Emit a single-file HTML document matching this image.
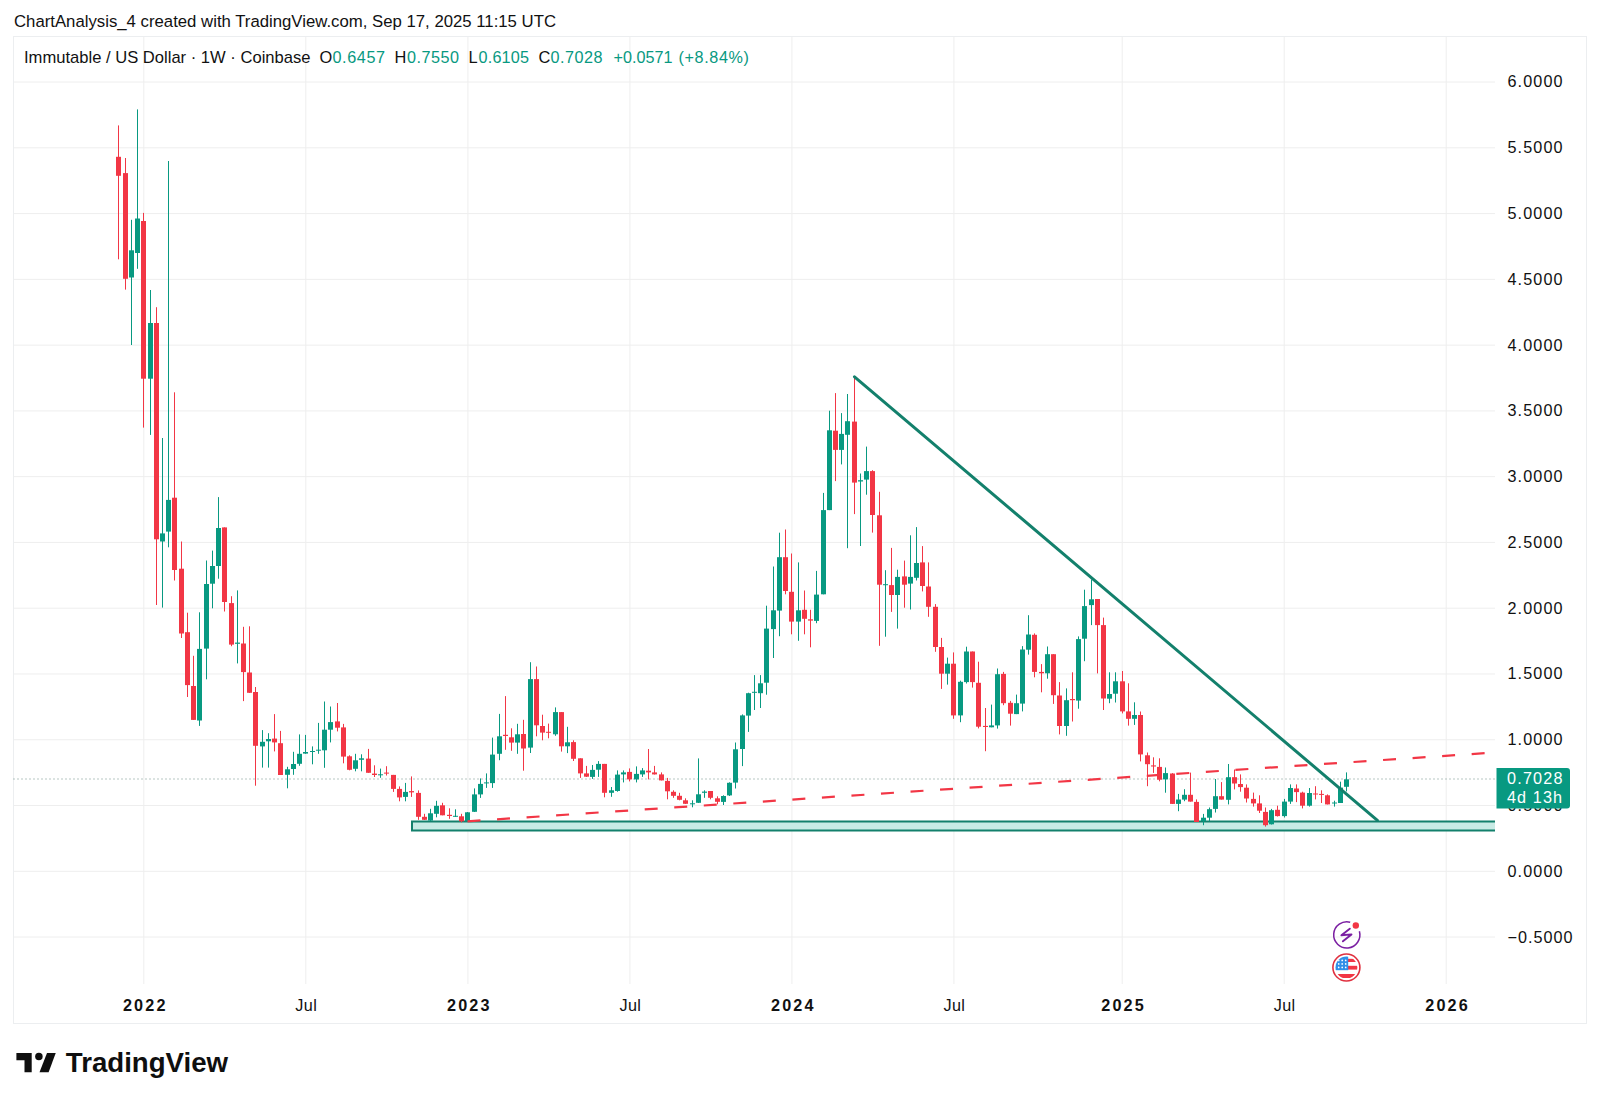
<!DOCTYPE html><html><head><meta charset="utf-8"><style>html,body{margin:0;padding:0;background:#fff;overflow:hidden}svg{display:block}</style></head><body>
<svg width="1600" height="1103" viewBox="0 0 1600 1103" font-family="'Liberation Sans', sans-serif">
<rect width="1600" height="1103" fill="#fff"/>
<text x="14.0" y="26.7" font-size="16.8" fill="#111" textLength="542" lengthAdjust="spacingAndGlyphs">ChartAnalysis_4 created with TradingView.com, Sep 17, 2025 11:15 UTC</text>
<rect x="13.5" y="36.5" width="1573" height="987" fill="none" stroke="#eceef0" stroke-width="1"/>
<line x1="143.8" y1="37" x2="143.8" y2="984" stroke="#eeeeee" stroke-width="1"/>
<line x1="305.8" y1="37" x2="305.8" y2="984" stroke="#eeeeee" stroke-width="1"/>
<line x1="467.9" y1="37" x2="467.9" y2="984" stroke="#eeeeee" stroke-width="1"/>
<line x1="629.9" y1="37" x2="629.9" y2="984" stroke="#eeeeee" stroke-width="1"/>
<line x1="791.9" y1="37" x2="791.9" y2="984" stroke="#eeeeee" stroke-width="1"/>
<line x1="953.9" y1="37" x2="953.9" y2="984" stroke="#eeeeee" stroke-width="1"/>
<line x1="1122.2" y1="37" x2="1122.2" y2="984" stroke="#eeeeee" stroke-width="1"/>
<line x1="1284.2" y1="37" x2="1284.2" y2="984" stroke="#eeeeee" stroke-width="1"/>
<line x1="1446.2" y1="37" x2="1446.2" y2="984" stroke="#eeeeee" stroke-width="1"/>
<line x1="14" y1="937.06" x2="1495" y2="937.06" stroke="#eeeeee" stroke-width="1"/>
<line x1="14" y1="871.29" x2="1495" y2="871.29" stroke="#eeeeee" stroke-width="1"/>
<line x1="14" y1="805.52" x2="1495" y2="805.52" stroke="#eeeeee" stroke-width="1"/>
<line x1="14" y1="739.75" x2="1495" y2="739.75" stroke="#eeeeee" stroke-width="1"/>
<line x1="14" y1="673.98" x2="1495" y2="673.98" stroke="#eeeeee" stroke-width="1"/>
<line x1="14" y1="608.21" x2="1495" y2="608.21" stroke="#eeeeee" stroke-width="1"/>
<line x1="14" y1="542.44" x2="1495" y2="542.44" stroke="#eeeeee" stroke-width="1"/>
<line x1="14" y1="476.67" x2="1495" y2="476.67" stroke="#eeeeee" stroke-width="1"/>
<line x1="14" y1="410.90" x2="1495" y2="410.90" stroke="#eeeeee" stroke-width="1"/>
<line x1="14" y1="345.13" x2="1495" y2="345.13" stroke="#eeeeee" stroke-width="1"/>
<line x1="14" y1="279.36" x2="1495" y2="279.36" stroke="#eeeeee" stroke-width="1"/>
<line x1="14" y1="213.59" x2="1495" y2="213.59" stroke="#eeeeee" stroke-width="1"/>
<line x1="14" y1="147.82" x2="1495" y2="147.82" stroke="#eeeeee" stroke-width="1"/>
<line x1="14" y1="82.05" x2="1495" y2="82.05" stroke="#eeeeee" stroke-width="1"/>
<text x="1507.5" y="942.5" font-size="16.2" fill="#111" textLength="65" lengthAdjust="spacing">−0.5000</text>
<text x="1507.5" y="876.7" font-size="16.2" fill="#111" textLength="55" lengthAdjust="spacing">0.0000</text>
<text x="1507.5" y="810.9" font-size="16.2" fill="#111" textLength="55" lengthAdjust="spacing">0.5000</text>
<text x="1507.5" y="745.1" font-size="16.2" fill="#111" textLength="55" lengthAdjust="spacing">1.0000</text>
<text x="1507.5" y="679.4" font-size="16.2" fill="#111" textLength="55" lengthAdjust="spacing">1.5000</text>
<text x="1507.5" y="613.6" font-size="16.2" fill="#111" textLength="55" lengthAdjust="spacing">2.0000</text>
<text x="1507.5" y="547.8" font-size="16.2" fill="#111" textLength="55" lengthAdjust="spacing">2.5000</text>
<text x="1507.5" y="482.1" font-size="16.2" fill="#111" textLength="55" lengthAdjust="spacing">3.0000</text>
<text x="1507.5" y="416.3" font-size="16.2" fill="#111" textLength="55" lengthAdjust="spacing">3.5000</text>
<text x="1507.5" y="350.5" font-size="16.2" fill="#111" textLength="55" lengthAdjust="spacing">4.0000</text>
<text x="1507.5" y="284.8" font-size="16.2" fill="#111" textLength="55" lengthAdjust="spacing">4.5000</text>
<text x="1507.5" y="219.0" font-size="16.2" fill="#111" textLength="55" lengthAdjust="spacing">5.0000</text>
<text x="1507.5" y="153.2" font-size="16.2" fill="#111" textLength="55" lengthAdjust="spacing">5.5000</text>
<text x="1507.5" y="87.4" font-size="16.2" fill="#111" textLength="55" lengthAdjust="spacing">6.0000</text>
<text x="122.9" y="1010.9" font-size="16.2" font-weight="bold" fill="#111" textLength="42.5" lengthAdjust="spacing">2022</text>
<text x="295.3" y="1010.9" font-size="16.2" fill="#111" textLength="21.5" lengthAdjust="spacing">Jul</text>
<text x="447.0" y="1010.9" font-size="16.2" font-weight="bold" fill="#111" textLength="42.5" lengthAdjust="spacing">2023</text>
<text x="619.4" y="1010.9" font-size="16.2" fill="#111" textLength="21.5" lengthAdjust="spacing">Jul</text>
<text x="771.0" y="1010.9" font-size="16.2" font-weight="bold" fill="#111" textLength="42.5" lengthAdjust="spacing">2024</text>
<text x="943.4" y="1010.9" font-size="16.2" fill="#111" textLength="21.5" lengthAdjust="spacing">Jul</text>
<text x="1101.3" y="1010.9" font-size="16.2" font-weight="bold" fill="#111" textLength="42.5" lengthAdjust="spacing">2025</text>
<text x="1273.7" y="1010.9" font-size="16.2" fill="#111" textLength="21.5" lengthAdjust="spacing">Jul</text>
<text x="1425.3" y="1010.9" font-size="16.2" font-weight="bold" fill="#111" textLength="42.5" lengthAdjust="spacing">2026</text>
<text x="24" y="63" font-size="16.4" fill="#111" textLength="286.5" lengthAdjust="spacingAndGlyphs">Immutable / US Dollar · 1W · Coinbase</text>
<text x="319.5" y="63" font-size="16.4" fill="#111">O</text>
<text x="332.5" y="63" font-size="16.2" fill="#089981" textLength="52.5" lengthAdjust="spacing">0.6457</text>
<text x="394.5" y="63" font-size="16.4" fill="#111">H</text>
<text x="407.0" y="63" font-size="16.2" fill="#089981" textLength="52.0" lengthAdjust="spacing">0.7550</text>
<text x="468.5" y="63" font-size="16.4" fill="#111">L</text>
<text x="478.5" y="63" font-size="16.2" fill="#089981" textLength="50.5" lengthAdjust="spacing">0.6105</text>
<text x="538.5" y="63" font-size="16.4" fill="#111">C</text>
<text x="550.5" y="63" font-size="16.2" fill="#089981" textLength="52.0" lengthAdjust="spacing">0.7028</text>
<text x="613.5" y="63" font-size="16.2" fill="#089981" textLength="59.0" lengthAdjust="spacing">+0.0571</text>
<text x="678.5" y="63" font-size="16.2" fill="#089981" textLength="70.5" lengthAdjust="spacing">(+8.84%)</text>
<rect x="412" y="821.5" width="1083" height="9" fill="#c8ebe5"/>
<path d="M1495 821.5 H412 V830.5 H1495" fill="none" stroke="#13806c" stroke-width="2"/>
<line x1="13.5" y1="779" x2="1495" y2="779" stroke="#6f8f89" stroke-width="1.2" stroke-dasharray="1 3"/>
<g fill="#089981"><rect x="131" y="219.8" width="1" height="125.2"/><rect x="129" y="250.3" width="5" height="27.2"/><rect x="137" y="109.4" width="1" height="159.4"/><rect x="135" y="218.5" width="5" height="34.5"/><rect x="150" y="290.0" width="1" height="144.9"/><rect x="148" y="323.0" width="5" height="55.7"/><rect x="162" y="438.0" width="1" height="169.6"/><rect x="160" y="533.4" width="5" height="8.1"/><rect x="168" y="161.0" width="1" height="386.3"/><rect x="166" y="499.9" width="5" height="31.7"/><rect x="199" y="612.3" width="1" height="113.6"/><rect x="197" y="648.9" width="5" height="71.6"/><rect x="206" y="560.5" width="1" height="118.8"/><rect x="204" y="584.0" width="5" height="64.6"/><rect x="212" y="550.6" width="1" height="57.7"/><rect x="210" y="566.0" width="5" height="17.7"/><rect x="218" y="497.1" width="1" height="81.6"/><rect x="216" y="528.0" width="5" height="38.0"/><rect x="237" y="590.4" width="1" height="73.0"/><rect x="235" y="642.6" width="5" height="1.2"/><rect x="262" y="730.1" width="1" height="37.5"/><rect x="260" y="741.8" width="5" height="4.6"/><rect x="268" y="733.2" width="1" height="34.4"/><rect x="266" y="739.0" width="5" height="2.3"/><rect x="287" y="766.8" width="1" height="21.5"/><rect x="285" y="769.3" width="5" height="5.5"/><rect x="293" y="751.8" width="1" height="23.0"/><rect x="291" y="764.0" width="5" height="5.0"/><rect x="299" y="734.4" width="1" height="31.4"/><rect x="297" y="753.8" width="5" height="10.0"/><rect x="305" y="734.9" width="1" height="18.9"/><rect x="303" y="752.0" width="5" height="1.6"/><rect x="312" y="746.4" width="1" height="17.9"/><rect x="310" y="751.0" width="5" height="1.0"/><rect x="318" y="722.9" width="1" height="30.9"/><rect x="316" y="749.7" width="5" height="1.0"/><rect x="324" y="701.5" width="1" height="66.3"/><rect x="322" y="729.7" width="5" height="20.6"/><rect x="330" y="706.5" width="1" height="35.9"/><rect x="328" y="722.1" width="5" height="7.6"/><rect x="355" y="753.8" width="1" height="17.5"/><rect x="353" y="760.3" width="5" height="8.5"/><rect x="361" y="754.3" width="1" height="17.0"/><rect x="359" y="758.3" width="5" height="1.5"/><rect x="380" y="768.6" width="1" height="9.2"/><rect x="378" y="774.3" width="5" height="1.0"/><rect x="405" y="782.9" width="1" height="18.4"/><rect x="403" y="791.9" width="5" height="5.0"/><rect x="430" y="808.8" width="1" height="12.2"/><rect x="428" y="813.3" width="5" height="7.3"/><rect x="436" y="800.8" width="1" height="16.5"/><rect x="434" y="805.8" width="5" height="8.0"/><rect x="455" y="809.3" width="1" height="7.7"/><rect x="453" y="815.8" width="5" height="1.0"/><rect x="467" y="812.0" width="1" height="9.5"/><rect x="465" y="812.3" width="5" height="9.0"/><rect x="474" y="788.4" width="1" height="23.6"/><rect x="472" y="794.4" width="5" height="17.4"/><rect x="480" y="778.4" width="1" height="19.5"/><rect x="478" y="783.9" width="5" height="10.5"/><rect x="486" y="773.4" width="1" height="14.5"/><rect x="484" y="782.4" width="5" height="1.0"/><rect x="492" y="737.6" width="1" height="50.3"/><rect x="490" y="754.6" width="5" height="28.5"/><rect x="499" y="713.9" width="1" height="46.3"/><rect x="497" y="736.3" width="5" height="17.5"/><rect x="517" y="723.8" width="1" height="30.0"/><rect x="515" y="734.3" width="5" height="8.3"/><rect x="530" y="662.2" width="1" height="90.8"/><rect x="528" y="679.1" width="5" height="68.5"/><rect x="555" y="707.4" width="1" height="28.4"/><rect x="553" y="712.1" width="5" height="22.2"/><rect x="567" y="726.8" width="1" height="26.3"/><rect x="565" y="742.3" width="5" height="4.0"/><rect x="592" y="765.0" width="1" height="13.9"/><rect x="590" y="769.9" width="5" height="7.0"/><rect x="598" y="761.1" width="1" height="15.8"/><rect x="596" y="763.9" width="5" height="5.8"/><rect x="611" y="787.0" width="1" height="9.8"/><rect x="609" y="790.3" width="5" height="2.5"/><rect x="617" y="770.4" width="1" height="21.3"/><rect x="615" y="774.6" width="5" height="16.4"/><rect x="623" y="770.4" width="1" height="12.0"/><rect x="621" y="772.4" width="5" height="2.0"/><rect x="636" y="766.4" width="1" height="16.0"/><rect x="634" y="773.9" width="5" height="5.5"/><rect x="642" y="768.1" width="1" height="8.8"/><rect x="640" y="770.4" width="5" height="4.0"/><rect x="692" y="800.3" width="1" height="7.0"/><rect x="690" y="803.3" width="5" height="1.0"/><rect x="698" y="758.4" width="1" height="44.6"/><rect x="696" y="794.3" width="5" height="8.5"/><rect x="704" y="790.3" width="1" height="7.5"/><rect x="702" y="791.6" width="5" height="1.2"/><rect x="723" y="795.3" width="1" height="9.7"/><rect x="721" y="796.0" width="5" height="5.9"/><rect x="729" y="782.3" width="1" height="13.7"/><rect x="727" y="782.8" width="5" height="12.6"/><rect x="735" y="742.5" width="1" height="46.0"/><rect x="733" y="749.3" width="5" height="33.3"/><rect x="742" y="714.4" width="1" height="51.7"/><rect x="740" y="715.4" width="5" height="33.6"/><rect x="748" y="692.7" width="1" height="39.2"/><rect x="746" y="693.2" width="5" height="22.4"/><rect x="754" y="675.1" width="1" height="34.9"/><rect x="752" y="691.8" width="5" height="1.0"/><rect x="760" y="675.1" width="1" height="32.9"/><rect x="758" y="683.3" width="5" height="9.9"/><rect x="766" y="605.7" width="1" height="89.0"/><rect x="764" y="628.6" width="5" height="54.1"/><rect x="773" y="566.5" width="1" height="91.5"/><rect x="771" y="610.3" width="5" height="18.8"/><rect x="779" y="532.7" width="1" height="103.5"/><rect x="777" y="557.2" width="5" height="53.4"/><rect x="798" y="562.4" width="1" height="78.4"/><rect x="796" y="610.3" width="5" height="11.3"/><rect x="816" y="570.9" width="1" height="52.3"/><rect x="814" y="594.6" width="5" height="26.3"/><rect x="823" y="492.9" width="1" height="101.4"/><rect x="821" y="510.1" width="5" height="84.2"/><rect x="829" y="410.7" width="1" height="99.4"/><rect x="827" y="430.3" width="5" height="79.8"/><rect x="841" y="413.1" width="1" height="51.3"/><rect x="839" y="433.9" width="5" height="16.0"/><rect x="847" y="394.0" width="1" height="154.2"/><rect x="845" y="421.2" width="5" height="13.6"/><rect x="860" y="473.5" width="1" height="72.5"/><rect x="858" y="480.2" width="5" height="1.3"/><rect x="866" y="446.6" width="1" height="48.1"/><rect x="864" y="471.1" width="5" height="8.5"/><rect x="885" y="570.2" width="1" height="66.5"/><rect x="883" y="584.2" width="5" height="1.0"/><rect x="897" y="569.7" width="1" height="58.9"/><rect x="895" y="576.9" width="5" height="18.1"/><rect x="910" y="535.3" width="1" height="74.2"/><rect x="908" y="576.9" width="5" height="6.7"/><rect x="916" y="527.1" width="1" height="53.4"/><rect x="914" y="563.0" width="5" height="14.8"/><rect x="947" y="657.6" width="1" height="27.0"/><rect x="945" y="663.7" width="5" height="10.0"/><rect x="960" y="680.7" width="1" height="41.5"/><rect x="958" y="681.8" width="5" height="33.6"/><rect x="966" y="646.7" width="1" height="36.8"/><rect x="964" y="651.5" width="5" height="30.6"/><rect x="991" y="704.6" width="1" height="22.7"/><rect x="989" y="725.4" width="5" height="1.9"/><rect x="997" y="668.5" width="1" height="60.1"/><rect x="995" y="674.2" width="5" height="51.2"/><rect x="1016" y="694.6" width="1" height="19.5"/><rect x="1014" y="703.2" width="5" height="10.9"/><rect x="1022" y="646.1" width="1" height="65.3"/><rect x="1020" y="649.5" width="5" height="54.1"/><rect x="1028" y="615.2" width="1" height="39.4"/><rect x="1026" y="634.5" width="5" height="15.2"/><rect x="1047" y="646.5" width="1" height="32.2"/><rect x="1045" y="654.2" width="5" height="19.1"/><rect x="1066" y="688.4" width="1" height="47.4"/><rect x="1064" y="700.2" width="5" height="25.8"/><rect x="1078" y="636.4" width="1" height="72.3"/><rect x="1076" y="639.1" width="5" height="61.5"/><rect x="1084" y="589.7" width="1" height="71.5"/><rect x="1082" y="606.1" width="5" height="32.6"/><rect x="1091" y="579.5" width="1" height="45.6"/><rect x="1089" y="599.3" width="5" height="5.8"/><rect x="1109" y="672.3" width="1" height="30.9"/><rect x="1107" y="694.0" width="5" height="4.7"/><rect x="1115" y="672.3" width="1" height="30.2"/><rect x="1113" y="681.3" width="5" height="12.4"/><rect x="1134" y="702.3" width="1" height="22.6"/><rect x="1132" y="715.0" width="5" height="3.8"/><rect x="1165" y="767.5" width="1" height="25.2"/><rect x="1163" y="773.1" width="5" height="6.3"/><rect x="1178" y="793.9" width="1" height="17.3"/><rect x="1176" y="799.5" width="5" height="4.4"/><rect x="1184" y="789.2" width="1" height="12.0"/><rect x="1182" y="794.8" width="5" height="4.8"/><rect x="1203" y="813.9" width="1" height="11.3"/><rect x="1201" y="817.7" width="5" height="3.3"/><rect x="1209" y="807.5" width="1" height="13.5"/><rect x="1207" y="809.2" width="5" height="8.5"/><rect x="1215" y="779.0" width="1" height="33.5"/><rect x="1213" y="796.2" width="5" height="12.7"/><rect x="1228" y="764.0" width="1" height="40.4"/><rect x="1226" y="777.2" width="5" height="22.6"/><rect x="1271" y="808.9" width="1" height="15.6"/><rect x="1269" y="810.2" width="5" height="14.1"/><rect x="1284" y="798.9" width="1" height="18.6"/><rect x="1282" y="801.6" width="5" height="14.5"/><rect x="1290" y="784.4" width="1" height="19.5"/><rect x="1288" y="788.0" width="5" height="13.6"/><rect x="1309" y="788.0" width="1" height="18.6"/><rect x="1307" y="793.0" width="5" height="12.7"/><rect x="1334" y="800.7" width="1" height="5.9"/><rect x="1332" y="802.5" width="5" height="1.0"/><rect x="1340" y="781.7" width="1" height="21.3"/><rect x="1338" y="787.6" width="5" height="15.4"/><rect x="1346" y="772.4" width="1" height="19.0"/><rect x="1344" y="779.3" width="5" height="7.5"/></g>
<g fill="#f23645"><rect x="118" y="125.4" width="1" height="133.9"/><rect x="116" y="156.8" width="5" height="19.0"/><rect x="125" y="158.0" width="1" height="131.6"/><rect x="123" y="173.1" width="5" height="105.7"/><rect x="143" y="212.9" width="1" height="214.7"/><rect x="141" y="221.0" width="5" height="157.7"/><rect x="156" y="307.2" width="1" height="297.8"/><rect x="154" y="323.0" width="5" height="216.3"/><rect x="174" y="392.3" width="1" height="188.2"/><rect x="172" y="497.7" width="5" height="72.3"/><rect x="181" y="541.5" width="1" height="96.5"/><rect x="179" y="568.7" width="5" height="64.8"/><rect x="187" y="612.7" width="1" height="84.3"/><rect x="185" y="632.2" width="5" height="52.9"/><rect x="193" y="655.8" width="1" height="64.2"/><rect x="191" y="686.0" width="5" height="33.9"/><rect x="224" y="527.4" width="1" height="84.1"/><rect x="222" y="527.4" width="5" height="74.6"/><rect x="231" y="596.2" width="1" height="50.0"/><rect x="229" y="603.1" width="5" height="41.5"/><rect x="243" y="626.8" width="1" height="74.3"/><rect x="241" y="643.5" width="5" height="28.6"/><rect x="249" y="626.3" width="1" height="66.7"/><rect x="247" y="672.5" width="5" height="20.3"/><rect x="255" y="687.0" width="1" height="98.7"/><rect x="253" y="692.0" width="5" height="53.8"/><rect x="274" y="714.1" width="1" height="37.3"/><rect x="272" y="738.6" width="5" height="3.8"/><rect x="280" y="730.9" width="1" height="44.1"/><rect x="278" y="743.2" width="5" height="31.8"/><rect x="337" y="703.0" width="1" height="28.4"/><rect x="335" y="721.4" width="5" height="6.3"/><rect x="343" y="723.9" width="1" height="39.4"/><rect x="341" y="727.4" width="5" height="29.2"/><rect x="349" y="755.3" width="1" height="15.0"/><rect x="347" y="756.3" width="5" height="13.5"/><rect x="368" y="748.9" width="1" height="23.9"/><rect x="366" y="758.6" width="5" height="14.2"/><rect x="374" y="765.3" width="1" height="11.7"/><rect x="372" y="773.6" width="5" height="1.4"/><rect x="386" y="766.2" width="1" height="9.3"/><rect x="384" y="772.6" width="5" height="1.0"/><rect x="393" y="774.9" width="1" height="17.0"/><rect x="391" y="774.9" width="5" height="14.0"/><rect x="399" y="786.4" width="1" height="14.9"/><rect x="397" y="788.9" width="5" height="8.5"/><rect x="411" y="776.4" width="1" height="20.5"/><rect x="409" y="791.1" width="5" height="1.3"/><rect x="418" y="790.4" width="1" height="29.4"/><rect x="416" y="792.9" width="5" height="23.9"/><rect x="424" y="813.8" width="1" height="6.2"/><rect x="422" y="816.8" width="5" height="3.0"/><rect x="442" y="802.8" width="1" height="12.5"/><rect x="440" y="805.3" width="5" height="10.0"/><rect x="449" y="808.3" width="1" height="10.5"/><rect x="447" y="814.8" width="5" height="1.2"/><rect x="461" y="813.8" width="1" height="8.5"/><rect x="459" y="816.3" width="5" height="5.0"/><rect x="505" y="696.1" width="1" height="53.7"/><rect x="503" y="734.8" width="5" height="1.2"/><rect x="511" y="728.3" width="1" height="22.5"/><rect x="509" y="737.3" width="5" height="5.3"/><rect x="523" y="719.8" width="1" height="50.9"/><rect x="521" y="734.0" width="5" height="14.5"/><rect x="536" y="666.5" width="1" height="69.8"/><rect x="534" y="679.1" width="5" height="46.2"/><rect x="542" y="714.7" width="1" height="25.6"/><rect x="540" y="726.0" width="5" height="6.6"/><rect x="548" y="723.6" width="1" height="14.7"/><rect x="546" y="731.8" width="5" height="1.0"/><rect x="561" y="712.1" width="1" height="39.5"/><rect x="559" y="712.1" width="5" height="34.2"/><rect x="573" y="740.3" width="1" height="20.7"/><rect x="571" y="742.1" width="5" height="16.7"/><rect x="580" y="758.3" width="1" height="19.6"/><rect x="578" y="758.3" width="5" height="15.1"/><rect x="586" y="765.9" width="1" height="11.1"/><rect x="584" y="773.4" width="5" height="3.3"/><rect x="604" y="763.9" width="1" height="33.4"/><rect x="602" y="763.9" width="5" height="28.9"/><rect x="629" y="768.4" width="1" height="13.0"/><rect x="627" y="771.9" width="5" height="7.5"/><rect x="648" y="749.0" width="1" height="30.4"/><rect x="646" y="770.7" width="5" height="1.7"/><rect x="654" y="765.9" width="1" height="8.6"/><rect x="652" y="772.4" width="5" height="2.0"/><rect x="661" y="772.4" width="1" height="8.0"/><rect x="659" y="774.4" width="5" height="6.0"/><rect x="667" y="777.9" width="1" height="21.4"/><rect x="665" y="780.9" width="5" height="10.4"/><rect x="673" y="790.3" width="1" height="7.5"/><rect x="671" y="791.8" width="5" height="4.0"/><rect x="679" y="792.8" width="1" height="7.5"/><rect x="677" y="795.8" width="5" height="4.0"/><rect x="685" y="798.3" width="1" height="5.7"/><rect x="683" y="800.3" width="5" height="3.5"/><rect x="710" y="791.0" width="1" height="8.3"/><rect x="708" y="791.0" width="5" height="6.8"/><rect x="717" y="796.3" width="1" height="8.0"/><rect x="715" y="798.3" width="5" height="3.5"/><rect x="785" y="529.5" width="1" height="64.8"/><rect x="783" y="557.2" width="5" height="33.8"/><rect x="791" y="553.5" width="1" height="80.8"/><rect x="789" y="591.8" width="5" height="29.8"/><rect x="804" y="590.5" width="1" height="43.8"/><rect x="802" y="609.8" width="5" height="9.0"/><rect x="810" y="609.8" width="1" height="37.5"/><rect x="808" y="619.3" width="5" height="1.3"/><rect x="835" y="393.1" width="1" height="88.0"/><rect x="833" y="430.7" width="5" height="19.2"/><rect x="854" y="376.2" width="1" height="137.9"/><rect x="852" y="421.6" width="5" height="61.0"/><rect x="872" y="470.2" width="1" height="62.4"/><rect x="870" y="471.1" width="5" height="43.9"/><rect x="879" y="491.8" width="1" height="154.0"/><rect x="877" y="515.3" width="5" height="69.4"/><rect x="891" y="547.9" width="1" height="64.0"/><rect x="889" y="585.1" width="5" height="9.9"/><rect x="904" y="560.6" width="1" height="47.1"/><rect x="902" y="576.4" width="5" height="8.3"/><rect x="922" y="546.1" width="1" height="45.3"/><rect x="920" y="562.4" width="5" height="23.6"/><rect x="928" y="562.4" width="1" height="54.4"/><rect x="926" y="586.5" width="5" height="20.3"/><rect x="935" y="604.1" width="1" height="47.7"/><rect x="933" y="606.8" width="5" height="40.2"/><rect x="941" y="637.9" width="1" height="51.0"/><rect x="939" y="647.0" width="5" height="26.7"/><rect x="953" y="652.4" width="1" height="66.4"/><rect x="951" y="663.7" width="5" height="51.7"/><rect x="972" y="651.5" width="1" height="36.1"/><rect x="970" y="651.5" width="5" height="30.6"/><rect x="978" y="661.7" width="1" height="66.7"/><rect x="976" y="682.8" width="5" height="43.9"/><rect x="985" y="708.0" width="1" height="43.2"/><rect x="983" y="725.9" width="5" height="1.1"/><rect x="1003" y="671.9" width="1" height="33.3"/><rect x="1001" y="673.9" width="5" height="29.3"/><rect x="1010" y="700.9" width="1" height="24.7"/><rect x="1008" y="702.8" width="5" height="10.9"/><rect x="1034" y="633.4" width="1" height="43.9"/><rect x="1032" y="634.8" width="5" height="37.1"/><rect x="1041" y="664.1" width="1" height="28.2"/><rect x="1039" y="671.9" width="5" height="1.4"/><rect x="1053" y="654.2" width="1" height="49.7"/><rect x="1051" y="654.2" width="5" height="41.0"/><rect x="1059" y="682.1" width="1" height="52.3"/><rect x="1057" y="695.5" width="5" height="30.5"/><rect x="1072" y="672.3" width="1" height="49.2"/><rect x="1070" y="699.0" width="5" height="1.2"/><rect x="1097" y="599.0" width="1" height="74.4"/><rect x="1095" y="599.0" width="5" height="26.1"/><rect x="1103" y="617.6" width="1" height="92.4"/><rect x="1101" y="625.1" width="5" height="73.4"/><rect x="1122" y="671.0" width="1" height="42.4"/><rect x="1120" y="681.3" width="5" height="30.1"/><rect x="1128" y="683.3" width="1" height="42.3"/><rect x="1126" y="711.4" width="5" height="7.4"/><rect x="1140" y="711.5" width="1" height="49.9"/><rect x="1138" y="715.0" width="5" height="39.4"/><rect x="1147" y="752.5" width="1" height="33.7"/><rect x="1145" y="755.3" width="5" height="8.9"/><rect x="1153" y="757.3" width="1" height="15.6"/><rect x="1151" y="765.4" width="5" height="1.1"/><rect x="1159" y="758.3" width="1" height="23.0"/><rect x="1157" y="766.9" width="5" height="12.8"/><rect x="1172" y="773.1" width="1" height="30.9"/><rect x="1170" y="773.5" width="5" height="30.4"/><rect x="1190" y="772.6" width="1" height="29.0"/><rect x="1188" y="794.8" width="5" height="6.8"/><rect x="1196" y="799.4" width="1" height="22.6"/><rect x="1194" y="801.9" width="5" height="20.1"/><rect x="1221" y="782.1" width="1" height="17.5"/><rect x="1219" y="796.2" width="5" height="3.4"/><rect x="1234" y="769.5" width="1" height="19.9"/><rect x="1232" y="777.2" width="5" height="6.3"/><rect x="1240" y="774.4" width="1" height="17.3"/><rect x="1238" y="784.0" width="5" height="3.1"/><rect x="1246" y="784.4" width="1" height="18.1"/><rect x="1244" y="787.7" width="5" height="10.8"/><rect x="1253" y="792.6" width="1" height="14.0"/><rect x="1251" y="798.9" width="5" height="4.5"/><rect x="1259" y="795.3" width="1" height="17.7"/><rect x="1257" y="803.4" width="5" height="7.3"/><rect x="1265" y="807.5" width="1" height="19.1"/><rect x="1263" y="811.9" width="5" height="13.3"/><rect x="1277" y="805.7" width="1" height="10.8"/><rect x="1275" y="809.8" width="5" height="6.3"/><rect x="1296" y="784.4" width="1" height="17.7"/><rect x="1294" y="788.5" width="5" height="3.6"/><rect x="1302" y="791.7" width="1" height="16.7"/><rect x="1300" y="792.6" width="5" height="13.1"/><rect x="1315" y="786.2" width="1" height="13.2"/><rect x="1313" y="793.5" width="5" height="1.0"/><rect x="1321" y="790.3" width="1" height="12.7"/><rect x="1319" y="793.9" width="5" height="1.0"/><rect x="1327" y="794.4" width="1" height="10.0"/><rect x="1325" y="795.3" width="5" height="9.1"/></g>
<line x1="467.5" y1="821.3" x2="1484.7" y2="753.2" stroke="#f23645" stroke-width="2.2" stroke-dasharray="13 16.6"/>
<line x1="854.5" y1="376.8" x2="1377.4" y2="820.3" stroke="#13806c" stroke-width="3" stroke-linecap="round"/>
<path d="M1496.5 768 H1567 a3 3 0 0 1 3 3 V805.4 a3 3 0 0 1 -3 3 H1496.5 Z" fill="#089981"/>
<text x="1507.0" y="784.4" font-size="16.2" fill="#fff" textLength="55.5" lengthAdjust="spacing">0.7028</text>
<text x="1507.0" y="803.3" font-size="16.2" fill="#fff" textLength="55" lengthAdjust="spacing">4d 13h</text>
<g fill="none" stroke="#7b1fa2" stroke-width="1.5"><path d="M1350.19 922.20 A13.1 13.1 0 1 0 1359.39 931.24"/><path d="M1349.8 928.7 L1341.4 935.3 L1351.5 934.4 L1342.9 941.3" stroke-width="1.9" stroke-linejoin="round" stroke-linecap="round"/></g>
<circle cx="1355.8" cy="925.5" r="3.2" fill="#f23645"/>
<g><circle cx="1346.4" cy="967.5" r="13.5" fill="#fff" stroke="#e0303f" stroke-width="1.6"/><clipPath id="fc"><circle cx="1346.4" cy="967.5" r="10.9"/></clipPath><g clip-path="url(#fc)"><rect x="1348" y="958.8" width="12" height="3.2" fill="#f23645"/><rect x="1348" y="965.8" width="12" height="3.8" fill="#f23645"/><rect x="1334" y="974" width="25" height="4" fill="#f23645"/><rect x="1334" y="955" width="14.2" height="15.2" fill="#2f8fe8"/><g fill="#fff"><circle cx="1338.7" cy="960.4" r="0.85"/><circle cx="1338.7" cy="963.9" r="0.85"/><circle cx="1338.7" cy="967.4" r="0.85"/><circle cx="1342.2" cy="960.4" r="0.85"/><circle cx="1342.2" cy="963.9" r="0.85"/><circle cx="1342.2" cy="967.4" r="0.85"/><circle cx="1345.7" cy="960.4" r="0.85"/><circle cx="1345.7" cy="963.9" r="0.85"/><circle cx="1345.7" cy="967.4" r="0.85"/></g></g></g>
<g fill="#0f0f0f"><path d="M16.4 1052.9 H31.7 V1072.2 H24.5 V1060.2 H16.4 Z"/><circle cx="38.9" cy="1056.6" r="3.75"/><path d="M47 1053 H55.75 L48.6 1072.2 H39.5 Z"/></g>
<text x="65.8" y="1072.4" font-size="28.3" font-weight="bold" fill="#0f0f0f" textLength="162.3" lengthAdjust="spacingAndGlyphs">TradingView</text>
</svg></body></html>
